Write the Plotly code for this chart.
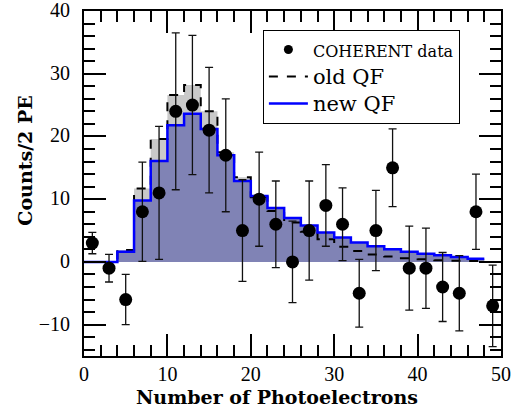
import plotly.graph_objects as go

# Histogram bin edges (PE) and predicted counts per 2 PE bin
bin_edges = [0, 2, 4, 6, 8, 10, 12, 14, 16, 18, 20, 22, 24, 26, 28, 30,
             32, 34, 36, 38, 40, 42, 44, 46, 48]
new_qf = [0.0, 0.0, 1.6, 9.8, 16.1, 21.8, 23.6, 21.2, 17.0, 12.9, 10.5, 8.6,
          7.0, 5.8, 4.7, 3.9, 3.1, 2.5, 2.0, 1.6, 1.3, 1.05, 0.8, 0.5]
old_qf = [0.0, 0.0, 1.9, 11.7, 19.6, 26.6, 28.2, 24.0, 17.5, 13.5, 10.3, 8.1,
          6.3, 4.8, 3.6, 2.4, 1.75, 1.2, 0.85, 0.6, 0.42, 0.27, 0.2, 0.15]

# COHERENT data points
data_x = [1, 3, 5, 7, 9, 11, 13, 15, 17, 19, 21, 23, 25,
          27, 29, 31, 33, 35, 37, 39, 41, 43, 45, 47, 49]
data_y = [3, -1, -6, 8, 11, 24, 25, 21, 17, 5, 10, 6, 0,
          5, 9, 6, -5, 5, 15, -1, -1, -4, -5, 8, -7]
data_err = [1.7, 2.2, 4.0, 7.9, 10.6, 12.5, 11.1, 10.0, 9.0, 8.1, 7.5, 6.9, 6.5,
            7.9, 6.5, 5.8, 5.4, 6.4, 6.2, 6.7, 6.4, 5.5, 6.0, 6.0, 6.5]

x_ticks = [0, 10, 20, 30, 40, 50]
y_ticks = [-10, 0, 10, 20, 30, 40]

x_title = "Number of Photoelectrons"
y_title = "Counts/2 PE"

step_x = bin_edges
new_step = new_qf + [new_qf[-1]]
old_step = old_qf + [old_qf[-1]]

FONT = "Liberation Serif"
TFONT = "DejaVu Serif"

fig = go.Figure()
fig.add_trace(go.Scatter(x=step_x, y=old_step, mode="lines", line=dict(shape="hv", width=0),
                         fill="tozeroy", fillcolor="#c9c9c9", showlegend=False, hoverinfo="skip"))
fig.add_trace(go.Scatter(x=step_x, y=new_step, mode="lines", line=dict(shape="hv", width=0),
                         fill="tozeroy", fillcolor="#8083b5", showlegend=False, hoverinfo="skip"))
fig.add_trace(go.Scatter(x=step_x, y=old_step, mode="lines",
                         line=dict(shape="hv", color="black", width=2, dash="dash"),
                         name="<span style='font-size:21px'>old QF</span>", legendrank=2))
fig.add_trace(go.Scatter(x=step_x, y=new_step, mode="lines",
                         line=dict(shape="hv", color="#0000ff", width=2.5),
                         name="<span style='font-size:21px'>new QF</span>", legendrank=3))
fig.add_trace(go.Scatter(
    x=data_x, y=data_y, mode="markers",
    marker=dict(color="black", size=13),
    error_y=dict(type="data", array=data_err, visible=True, color="#111111", thickness=1.3, width=4),
    name="COHERENT data", showlegend=False))
# legend entry for the data (smaller marker, as in the reference legend)
fig.add_trace(go.Scatter(
    x=[None], y=[None], mode="markers", marker=dict(color="black", size=9),
    name="<span style='font-size:16px'>COHERENT data</span>", legendrank=1))

axis_common = dict(
    showline=True, linecolor="black", linewidth=2, mirror="ticks",
    ticks="inside", ticklen=22, tickwidth=2, tickcolor="black",
    showgrid=False, zeroline=False, automargin=False, ticklabeloverflow="allow",
    tickfont=dict(family=FONT, size=20, color="black"),
    minor=dict(dtick=2, ticklen=11, tickwidth=1.5, tickcolor="black", ticks="inside", showgrid=False),
)

fig.update_xaxes(range=[0, 50], tickvals=x_ticks, ticklabelstandoff=-1, **axis_common)
fig.update_yaxes(range=[-15, 40], tickvals=y_ticks, ticklabelstandoff=8, ticklabelshift=-1,
                 tickformat="d", **axis_common)

fig.add_annotation(text="<b>" + x_title + "</b>", xref="paper", yref="paper",
                   x=0.464, y=0, yshift=-41, xanchor="center", yanchor="middle",
                   showarrow=False, font=dict(family=TFONT, size=19, color="black"))
fig.add_annotation(text="<b>" + y_title + "</b>", xref="paper", yref="paper",
                   x=0, xshift=-59, y=0.566, xanchor="center", yanchor="middle",
                   textangle=-90, showarrow=False,
                   font=dict(family=TFONT, size=19, color="black"))

fig.update_layout(
    width=526, height=419,
    margin=dict(l=84, r=25, t=11, b=63),
    plot_bgcolor="white", paper_bgcolor="white",
    font=dict(family=FONT, color="black"),
    legend=dict(x=0.429, y=0.945, xanchor="left", yanchor="top",
                bordercolor="black", borderwidth=1, bgcolor="white",
                font=dict(family=TFONT, size=18.5, color="black"),
                itemwidth=39, tracegroupgap=0),
)

fig.write_html("out.html", config={"displayModeBar": False},
               post_script="document.body.style.margin='0px';")
